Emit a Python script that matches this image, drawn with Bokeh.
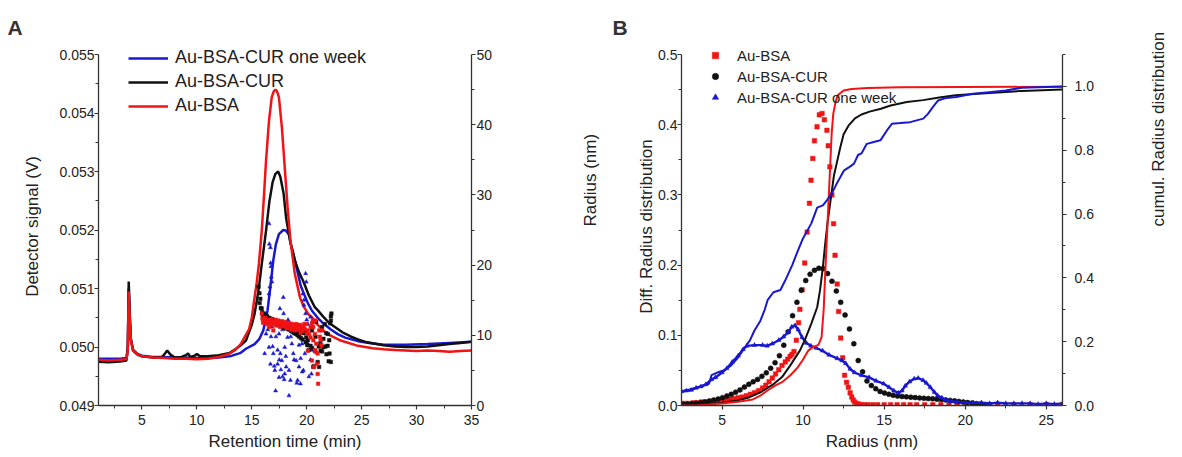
import math
from bokeh.plotting import figure
from bokeh.models import (Range1d, LinearAxis, FixedTicker, Legend, LegendItem,
                          Title, PrintfTickFormatter)
from bokeh.layouts import row
from bokeh.embed import file_html
from bokeh.resources import INLINE

FONT = "Liberation Sans"
BLUE = "#1818d0"
RED = "#f01414"
BLACK = "#111111"
AXC = "#333333"

# ---------------- Panel A data: detector signal (V) vs retention time (min)
a_red_line = [(1.0, .04978), (2.0, .04977), (3.0, .04978), (3.6, .04979), (3.72, .04995), (3.8, .05095),
              (3.9, .05045), (4.0, .05012), (4.2, .04994), (4.6, .04987), (5.0, .04984), (6.0, .04982),
              (7.0, .04981), (8.0, .04980), (9.0, .04980), (10.0, .04979), (11.0, .04980), (12.0, .04983),
              (12.9, .04988), (13.5, .04995), (14.0, .05005), (14.5, .05022), (14.75, .05030), (15.0, .05050),
              (15.26, .05085), (15.45, .05110), (15.65, .05142), (15.91, .05199), (16.1, .05255), (16.3, .05319),
              (16.57, .05387), (16.82, .05427), (17.0, .05437), (17.16, .05440), (17.3, .05437), (17.47, .05427),
              (17.74, .05376), (18.0, .05307), (18.26, .05239), (18.52, .05182), (18.92, .05125), (19.4, .05084),
              (19.7, .05070), (20.2, .05055), (20.48, .05051), (21.0, .05038), (21.52, .05028), (22.0, .05021),
              (23.1, .05011), (24.66, .05002), (26.0, .04998), (27.0, .04996), (28.0, .04995), (29.0, .04994),
              (30.0, .04993), (31.0, .04994), (32.0, .04993), (33.0, .04992), (34.0, .04993), (35.0, .04994)]
a_black_line = [(1.0, .04975), (2.0, .04974), (3.0, .04975), (3.6, .04977), (3.72, .05000), (3.8, .05112),
                (3.9, .05052), (4.0, .05013), (4.2, .04994), (4.6, .04987), (5.0, .04984), (6.0, .04982),
                (6.8, .04982), (7.1, .04989), (7.3, .04994), (7.6, .04987), (8.0, .04982), (8.6, .04983),
                (9.0, .04986), (9.2, .04989), (9.4, .04983), (9.8, .04985), (10.0, .04988), (10.3, .04984),
                (11.0, .04984), (12.0, .04986), (13.0, .04990), (13.5, .04996), (14.0, .05003), (14.47, .05011),
                (15.0, .05038), (15.26, .05057), (15.45, .05078), (15.65, .05102), (15.91, .05142), (16.1, .05170),
                (16.3, .05199), (16.6, .05248), (16.9, .05282), (17.15, .05296), (17.4, .05300), (17.6, .05291),
                (17.9, .05262), (18.13, .05220), (18.5, .05180), (18.92, .05148), (19.3, .05128), (19.7, .05112),
                (20.2, .05088), (20.74, .05068), (21.0, .05063), (21.5, .05052), (22.05, .05041), (22.5, .05035),
                (23.35, .05024), (24.0, .05018), (24.66, .05013), (25.5, .05008), (27.0, .05003), (28.0, .05001),
                (29.0, .05000), (30.0, .05000), (31.0, .05001), (32.0, .05003), (33.0, .05005), (34.0, .05007),
                (35.0, .05009)]
a_blue_line = [(1.0, .04980), (2.0, .04980), (3.0, .04980), (3.6, .04981), (3.72, .05000), (3.8, .05100),
               (3.9, .05048), (4.0, .05012), (4.2, .04995), (4.6, .04988), (5.0, .04985), (6.0, .04983),
               (7.0, .04983), (8.0, .04982), (9.0, .04982), (10.0, .04981), (11.0, .04981), (12.0, .04982),
               (13.0, .04984), (14.0, .04990), (14.47, .04997), (15.26, .05005), (15.7, .05014), (16.04, .05028),
               (16.25, .05045), (16.43, .05062), (16.69, .05102), (16.96, .05148), (17.2, .05176), (17.47, .05193),
               (17.87, .05200), (18.1, .05199), (18.39, .05192), (18.6, .05172), (18.78, .05160), (19.17, .05128),
               (19.45, .05105), (19.7, .05093), (20.1, .05075), (20.48, .05062), (21.0, .05050), (21.52, .05040),
               (22.2, .05030), (22.83, .05022), (23.5, .05016), (24.66, .05010), (26.0, .05006), (27.0, .05004),
               (29.0, .05004), (31.0, .05005), (33.0, .05007), (35.0, .05009)]

# radius (nm) scatter, right axis
a_red_pts = [(15.91, 13.1), (15.97, 12.4), (16.03, 11.8), (16.1, 12.3), (16.16, 11.9), (16.23, 12.5), (16.3, 12.0),
             (16.36, 11.6), (16.43, 12.2), (16.5, 11.8), (16.57, 11.2), (16.63, 12.1), (16.7, 11.7), (16.77, 12.3),
             (16.83, 11.5), (16.9, 11.9), (16.96, 10.7), (17.03, 12.0), (17.1, 11.6), (17.17, 12.2), (17.23, 11.4),
             (17.3, 11.9), (17.37, 11.5), (17.43, 12.1), (17.5, 11.6), (17.57, 11.2), (17.63, 11.9), (17.7, 11.5),
             (17.77, 12.0), (17.83, 11.3), (17.9, 11.7), (17.97, 11.4), (18.03, 11.9), (18.1, 11.2), (18.17, 11.6),
             (18.23, 11.0), (18.3, 11.5), (18.37, 11.8), (18.43, 11.1), (18.5, 11.4), (18.57, 10.8), (18.63, 11.6),
             (18.7, 11.2), (18.77, 11.5), (18.83, 10.9), (18.9, 10.7), (18.97, 11.3), (19.03, 11.6), (19.1, 11.0),
             (19.17, 11.4), (19.23, 10.8), (19.3, 11.2), (19.37, 11.5), (19.44, 10.4), (19.5, 11.0), (19.57, 11.3),
             (19.63, 10.6), (19.7, 11.1), (19.77, 11.6), (19.83, 10.9), (19.96, 11.6), (20.05, 10.2), (20.09, 10.7),
             (20.1, 7.8), (20.22, 10.2), (20.35, 9.7), (20.35, 11.2), (20.48, 11.6), (20.48, 6.4), (20.55, 12.0),
             (20.6, 9.3), (20.6, 11.2), (20.67, 5.5), (20.74, 10.2), (20.74, 7.9), (20.8, 12.1), (20.87, 8.8),
             (20.87, 7.6), (20.93, 5.9), (21.0, 7.4), (21.0, 4.5), (21.04, 3.1), (21.13, 10.7), (21.2, 9.8),
             (21.27, 9.3), (21.35, 8.6), (21.4, 10.7)]
a_black_pts = [(15.62, 16.9), (15.7, 16.0), (15.72, 14.6), (15.78, 15.2), (15.82, 13.9), (15.9, 13.8), (15.95, 13.3),
               (16.0, 13.0), (16.06, 12.7), (16.12, 13.1), (16.18, 12.6), (16.25, 12.9), (16.32, 12.4), (16.4, 12.7),
               (16.47, 12.2), (16.55, 12.5), (16.62, 12.1), (16.7, 12.4), (16.77, 12.0), (16.85, 12.3), (16.92, 11.9),
               (17.0, 12.2), (17.07, 11.8), (17.15, 12.0), (17.22, 11.6), (17.3, 11.9), (17.37, 11.5), (17.45, 11.8),
               (17.52, 11.4), (17.6, 11.7), (17.67, 11.3), (17.75, 11.6), (17.82, 11.2), (17.9, 11.5), (17.97, 11.1),
               (18.05, 11.4), (18.12, 11.0), (18.2, 11.3), (18.27, 10.9), (18.35, 11.2), (18.42, 10.8), (18.5, 11.1),
               (18.57, 10.6), (18.65, 11.0), (18.72, 10.5), (18.8, 10.9), (18.87, 10.3), (18.95, 10.8), (19.02, 10.2),
               (19.1, 10.7), (19.17, 10.0), (19.25, 10.6), (19.32, 9.8), (19.4, 10.5), (19.47, 9.6), (19.55, 10.4),
               (19.62, 9.4), (19.7, 10.3), (19.83, 10.7), (19.9, 9.0), (19.96, 9.7), (20.05, 8.6), (20.1, 9.3),
               (20.2, 7.9), (20.35, 8.5), (20.48, 10.7), (20.5, 8.2), (20.6, 5.5), (20.65, 5.6), (20.74, 7.8),
               (20.8, 9.8), (20.87, 11.9), (21.0, 6.2), (21.1, 8.4), (21.13, 5.5), (21.13, 8.5), (21.24, 8.9),
               (21.27, 7.8), (21.4, 11.2), (21.4, 7.7), (21.52, 8.3), (21.52, 9.5), (21.66, 11.6), (21.7, 8.4),
               (21.78, 10.3), (21.8, 7.3), (21.9, 8.5), (21.92, 10.2), (22.0, 6.3), (22.05, 9.3), (22.08, 7.4),
               (22.14, 11.7), (22.2, 6.2), (22.2, 12.1), (22.25, 13.1), (22.2, 12.7)]
a_blue_pts = [(16.04, 12.1), (16.17, 7.4), (16.3, 10.2), (16.46, 10.8), (16.57, 25.9), (16.6, 23.0), (16.65, 16.9),
              (16.57, 15.9), (16.7, 22.5), (16.72, 20.3), (16.75, 19.8), (16.78, 18.3), (16.83, 17.6), (16.57, 8.3),
              (16.7, 5.9), (16.75, 9.8), (16.83, 11.2), (16.9, 8.4), (16.96, 7.4), (17.05, 5.6), (17.1, 12.1),
              (17.1, 5.0), (17.17, 2.1), (17.2, 9.8), (17.2, 12.0), (17.35, 5.9), (17.35, 7.9), (17.48, 4.0),
              (17.48, 10.2), (17.5, 6.5), (17.56, 13.8), (17.6, 7.4), (17.6, 11.6), (17.65, 5.1), (17.74, 6.4),
              (17.8, 4.1), (17.8, 10.8), (17.87, 15.4), (17.9, 13.1), (17.95, 3.7), (18.0, 4.5), (18.0, 8.3),
              (18.1, 7.0), (18.1, 11.0), (18.13, 5.5), (18.13, 11.2), (18.26, 9.7), (18.3, 12.2), (18.39, 5.0),
              (18.39, 1.4), (18.52, 3.6), (18.55, 9.8), (18.65, 8.8), (18.65, 11.6), (18.78, 7.4), (18.85, 6.5),
              (18.91, 11.2), (19.04, 6.4), (19.1, 3.2), (19.15, 11.5), (19.17, 3.6), (19.17, 10.2), (19.3, 5.5),
              (19.3, 8.6), (19.43, 3.1), (19.45, 6.7), (19.57, 8.8), (19.6, 4.8), (19.65, 15.9), (19.7, 5.0),
              (19.75, 15.0), (19.75, 14.3), (19.83, 7.4), (19.9, 18.8), (19.9, 13.1), (19.96, 17.6), (20.0, 12.2),
              (20.05, 9.3), (20.1, 11.6), (20.1, 8.8), (20.2, 4.1), (20.35, 12.6), (20.35, 6.5), (20.43, 4.5),
              (20.5, 12.0), (20.5, 7.9)]

# ---------------- Panel B data: radius distributions
b_red_diff = [(2.5, .003), (2.75, .003), (3.0, .003), (3.25, .004), (3.5, .004), (3.75, .005), (4.0, .005),
              (4.25, .006), (4.5, .006), (4.75, .007), (5.0, .007), (5.25, .008), (5.5, .009), (5.75, .010),
              (6.0, .011), (6.25, .012), (6.5, .014), (6.75, .016), (7.0, .018), (7.25, .021), (7.5, .025),
              (7.7, .029), (7.9, .034), (8.1, .039), (8.3, .045), (8.5, .051), (8.7, .057), (8.9, .062),
              (9.05, .066), (9.2, .070), (9.32, .073), (9.44, .077), (9.58, .093), (9.72, .118), (9.8, .137),
              (9.94, .165), (10.1, .203), (10.25, .247), (10.39, .288), (10.49, .321), (10.6, .352), (10.7, .377),
              (10.86, .397), (11.0, .414), (11.17, .416), (11.31, .407), (11.47, .392), (11.55, .370), (11.65, .340),
              (11.78, .300), (11.88, .259), (11.97, .214), (12.1, .173), (12.19, .134), (12.32, .096), (12.44, .068),
              (12.56, .043), (12.68, .033), (12.79, .026), (12.9, .018), (13.0, .012), (13.09, .008), (13.18, .005),
              (13.3, .003), (13.45, .002), (13.6, .001), (13.8, .001), (14.0, .001), (14.3, .001), (14.6, .001),
              (15.0, .001), (15.4, .001), (15.8, .001), (16.2, .001), (16.6, .001), (17.0, .001), (17.5, .001),
              (18.0, .001), (18.5, .001), (19.0, .001), (19.5, .001), (20.0, .001), (20.5, .001), (21.0, .001),
              (21.5, .001), (22.0, .001), (23.0, .001), (24.0, .001), (25.0, .001), (26.0, .001)]
b_black_diff = [(2.6, .0017), (2.87, .0020), (3.14, .0025), (3.41, .0031), (3.68, .0040), (3.95, .0051),
                (4.22, .0063), (4.49, .0078), (4.76, .0094), (5.03, .0112), (5.3, .0135), (5.57, .0160),
                (5.84, .0190), (6.11, .0222), (6.38, .0262), (6.65, .0302), (6.92, .0338), (7.19, .0372),
                (7.46, .0415), (7.73, .0465), (8.0, .0530), (8.27, .0610), (8.54, .0710), (8.81, .0860),
                (9.08, .1050), (9.35, .1280), (9.62, .1470), (9.89, .1640), (10.16, .1780), (10.43, .1870),
                (10.7, .1925), (10.97, .1955), (11.24, .1950), (11.51, .1880), (11.78, .1770), (12.05, .1630),
                (12.32, .1470), (12.59, .1290), (12.86, .1090), (13.13, .0880), (13.4, .0640), (13.67, .0480),
                (13.94, .0350), (14.21, .0285), (14.48, .0240), (14.75, .0200), (15.02, .0178), (15.29, .0160),
                (15.56, .0146), (15.83, .0134), (16.1, .0128), (16.37, .0123), (16.64, .0118), (16.91, .0113),
                (17.18, .0108), (17.45, .0103), (17.72, .0099), (17.99, .0095), (18.26, .0090), (18.53, .0085),
                (18.8, .0080), (19.07, .0073), (19.34, .0066), (19.61, .0058), (19.88, .0050), (20.15, .0042),
                (20.42, .0034), (20.69, .0026), (20.96, .0019), (21.23, .0013), (21.5, .0008)]
b_blue_diff = [(2.5, .020), (2.8, .021), (3.1, .022), (3.4, .025), (3.7, .027), (4.0, .030), (4.35, .037),
               (4.6, .040), (5.0, .047), (5.3, .053), (5.63, .062), (6.0, .071), (6.3, .080), (6.53, .085),
               (7.0, .086), (7.5, .086), (7.78, .085), (8.1, .088), (8.5, .093), (8.8, .098), (9.1, .105),
               (9.3, .112), (9.5, .114), (9.7, .108), (9.94, .097), (10.2, .089), (10.48, .085), (10.8, .082),
               (11.2, .078), (11.6, .072), (12.1, .067), (12.4, .064), (12.63, .060), (12.9, .052), (13.17, .047),
               (13.6, .043), (14.07, .040), (14.5, .035), (14.97, .031), (15.3, .026), (15.6, .021), (15.87, .018),
               (16.1, .021), (16.3, .028), (16.57, .034), (16.85, .038), (17.1, .039), (17.4, .036), (17.6, .032),
               (17.85, .026), (18.1, .019), (18.3, .014), (18.56, .011), (18.8, .008), (19.1, .006), (19.5, .005),
               (20.0, .004), (20.5, .004), (21.0, .004), (21.5, .003), (22.0, .004), (22.5, .003), (23.0, .003),
               (23.5, .003), (24.0, .003), (24.5, .002), (25.0, .003), (25.5, .002), (26.0, .003)]
b_red_cum = [(2.5, 0.0), (3.5, 0.001), (4.2, 0.003), (5.1, 0.007), (6.0, 0.012), (6.9, 0.019), (7.4, 0.032),
             (7.8, 0.047), (8.3, 0.063), (8.7, 0.073), (9.2, 0.094), (9.6, 0.115), (9.96, 0.141), (10.32, 0.172),
             (10.6, 0.183), (10.95, 0.190), (11.14, 0.214), (11.27, 0.30), (11.37, 0.42), (11.47, 0.53),
             (11.57, 0.64), (11.67, 0.75), (11.76, 0.85), (11.86, 0.914), (12.0, 0.95), (12.13, 0.972),
             (12.5, 0.987), (13.0, 0.992), (14.0, 0.995), (16.0, 0.997), (20.0, 0.998), (26.0, 0.999)]
b_black_cum = [(2.5, 0.0), (3.5, 0.002), (4.2, 0.005), (5.0, 0.009), (6.0, 0.016), (6.7, 0.026), (7.4, 0.042),
               (8.2, 0.068), (8.7, 0.089), (9.2, 0.125), (9.8, 0.172), (10.1, 0.204), (10.5, 0.256), (10.87, 0.308),
               (11.04, 0.36), (11.22, 0.434), (11.35, 0.50), (11.5, 0.57), (11.7, 0.645), (11.9, 0.72),
               (12.1, 0.765), (12.3, 0.81), (12.5, 0.85), (12.8, 0.877), (13.2, 0.90), (13.6, 0.912),
               (14.1, 0.921), (14.8, 0.93), (15.4, 0.94), (16.4, 0.951), (17.4, 0.957), (18.4, 0.965),
               (19.4, 0.972), (21.5, 0.979), (23.5, 0.986), (26.0, 0.99)]
b_blue_cum = [(2.5, 0.045), (3.0, 0.05), (3.5, 0.057), (4.2, 0.068), (4.35, 0.095), (4.8, 0.105), (5.1, 0.11),
              (5.55, 0.125), (6.0, 0.151), (6.27, 0.172), (6.72, 0.204), (7.0, 0.235), (7.36, 0.265), (7.63, 0.30),
              (7.81, 0.33), (8.17, 0.355), (8.6, 0.362), (8.88, 0.39), (9.33, 0.44), (9.6, 0.475), (9.96, 0.52),
              (10.5, 0.57), (10.87, 0.62), (11.22, 0.627), (11.5, 0.645), (11.77, 0.664), (12.12, 0.70),
              (12.3, 0.716), (12.53, 0.737), (12.85, 0.747), (13.14, 0.758), (13.39, 0.785), (13.6, 0.79),
              (13.93, 0.82), (14.36, 0.826), (14.77, 0.831), (15.17, 0.862), (15.48, 0.883), (15.99, 0.885),
              (16.6, 0.888), (17.41, 0.899), (17.7, 0.914), (18.0, 0.935), (18.33, 0.956), (18.84, 0.964),
              (19.45, 0.967), (20.46, 0.977), (21.48, 0.982), (22.5, 0.987), (23.5, 0.996), (26.0, 1.0)]

# ---------------- ticks / labels
a_xticks = [5, 10, 15, 20, 25, 30, 35]
a_yticks = [0.049, 0.050, 0.051, 0.052, 0.053, 0.054, 0.055]
a_rticks = [0, 10, 20, 30, 40, 50]
b_xticks = [5, 10, 15, 20, 25]
b_yticks = [0.0, 0.1, 0.2, 0.3, 0.4, 0.5]
b_rticks = [0.0, 0.2, 0.4, 0.6, 0.8, 1.0]

# frame geometry: 351 px for the axis span, 7 px headroom above it for the legends
SPAN = 351.0
HEAD = 7.0
TOP = 47
FH = int(SPAN + HEAD)
H = 455


def xs(pairs):
    return [p[0] for p in pairs]


def ys(pairs):
    return [p[1] for p in pairs]


def padded(lo, hi):
    return Range1d(lo, hi + (hi - lo) * HEAD / SPAN)


def style_axis(ax, ticks, minor, fmt, label_std, title_std, title_size="17px"):
    ax.ticker = FixedTicker(ticks=ticks, minor_ticks=minor)
    ax.formatter = PrintfTickFormatter(format=fmt)
    ax.axis_line_color = AXC
    ax.axis_line_width = 1.3
    ax.major_tick_line_color = AXC
    ax.minor_tick_line_color = AXC
    ax.major_tick_line_width = 1.2
    ax.minor_tick_line_width = 1.0
    ax.major_tick_in = 0
    ax.major_tick_out = 4
    ax.minor_tick_in = 0
    ax.minor_tick_out = 3
    ax.major_label_text_font = FONT
    ax.major_label_text_font_size = "14px"
    ax.major_label_text_color = "#222222"
    ax.major_label_standoff = label_std
    ax.axis_label_text_font = FONT
    ax.axis_label_text_font_size = title_size
    ax.axis_label_text_font_style = "normal"
    ax.axis_label_text_color = "#222222"
    ax.axis_label_standoff = title_std


def base_fig(width, xr, yr, left, right):
    p = figure(width=width, height=H, x_range=xr, y_range=yr, output_backend="svg",
               toolbar_location=None, min_border_left=left, min_border_right=right,
               min_border_top=TOP, min_border_bottom=H - TOP - FH)
    p.outline_line_color = None
    p.xgrid.visible = False
    p.ygrid.visible = False
    p.background_fill_color = "white"
    p.border_fill_color = "white"
    return p


# ================= Panel A
pA = base_fig(612, Range1d(1.05, 35), padded(0.049, 0.055), 98, 136)
pA.extra_y_ranges = {"r": padded(0, 50)}
style_axis(pA.xaxis[0], a_xticks, [2.5, 7.5, 12.5, 17.5, 22.5, 27.5, 32.5], "%d", 5, 4)
pA.xaxis[0].axis_label = "Retention time (min)"
style_axis(pA.yaxis[0], a_yticks, [0.0495, 0.0505, 0.0515, 0.0525, 0.0535, 0.0545], "%.3f", 0, 14)
pA.yaxis[0].axis_label = "Detector signal (V)"
pA.yaxis[0].bounds = (0.049, 0.055)
rA = LinearAxis(y_range_name="r", axis_label="Radius (nm)")
style_axis(rA, a_rticks, [5, 15, 25, 35, 45], "%d", 1, 95)
rA.axis_label_orientation = math.pi / 2
rA.bounds = (0, 50)
pA.add_layout(rA, "right")

lb = pA.line(xs(a_blue_line), ys(a_blue_line), line_color=BLUE, line_width=2.5)
lk = pA.line(xs(a_black_line), ys(a_black_line), line_color=BLACK, line_width=2.5)
lr = pA.line(xs(a_red_line), ys(a_red_line), line_color=RED, line_width=2.5)
pA.scatter(xs(a_blue_pts), ys(a_blue_pts), y_range_name="r", marker="triangle", size=4,
           color=BLUE, line_width=0.5)
pA.scatter(xs(a_black_pts), ys(a_black_pts), y_range_name="r", marker="square", size=3.5,
           color=BLACK, line_width=0.5)
pA.scatter(xs(a_red_pts), ys(a_red_pts), y_range_name="r", marker="square", size=3.5,
           color=RED, line_width=0.5)

legA = Legend(items=[LegendItem(label="Au-BSA-CUR one week", renderers=[lb]),
                     LegendItem(label="Au-BSA-CUR", renderers=[lk]),
                     LegendItem(label="Au-BSA", renderers=[lr])],
              location=(30, 289), glyph_width=40, glyph_height=20, label_height=20, spacing=3,
              padding=0, margin=0, border_line_color=None, background_fill_alpha=0,
              label_standoff=7, label_text_font=FONT, label_text_font_size="18px",
              label_text_color="#222222")
pA.add_layout(legA)
pA.add_layout(Title(text="A", align="left", offset=-91, standoff=18, text_font=FONT,
                    text_font_size="21px", text_font_style="bold", text_color="#333333"), "above")

# ================= Panel B
pB = base_fig(568, Range1d(2.5, 26), padded(0, 0.5), 69, 114)
pB.extra_y_ranges = {"c": padded(0, 1.1)}
style_axis(pB.xaxis[0], b_xticks, [7.5, 12.5, 17.5, 22.5], "%d", 5, 4)
pB.xaxis[0].axis_label = "Radius (nm)"
style_axis(pB.yaxis[0], b_yticks, [0.05, 0.15, 0.25, 0.35, 0.45], "%.1f", 0, -1)
pB.yaxis[0].axis_label = "Diff. Radius distribution"
pB.yaxis[0].bounds = (0, 0.5)
rB = LinearAxis(y_range_name="c", axis_label="cumul. Radius distribution")
style_axis(rB, b_rticks, [0.1, 0.3, 0.5, 0.7, 0.9, 1.1], "%.1f", 8, 62)
rB.axis_label_orientation = math.pi / 2
rB.bounds = (0, 1.1)
pB.add_layout(rB, "right")

sr = pB.scatter(xs(b_red_diff), ys(b_red_diff), marker="square", size=4.5, color=RED, line_width=0.5)
sk = pB.scatter(xs(b_black_diff), ys(b_black_diff), marker="circle", size=5, color=BLACK, line_width=0.5)
pB.line(xs(b_blue_diff), ys(b_blue_diff), line_color=BLUE, line_width=2.4)
sb = pB.scatter(xs(b_blue_diff), ys(b_blue_diff), marker="triangle", size=4.5, color=BLUE, line_width=0.5)
pB.line(xs(b_black_cum), ys(b_black_cum), y_range_name="c", line_color=BLACK, line_width=2.0)
pB.line(xs(b_red_cum), ys(b_red_cum), y_range_name="c", line_color=RED, line_width=2.0)
pB.line(xs(b_blue_cum), ys(b_blue_cum), y_range_name="c", line_color=BLUE, line_width=2.0)

legB = Legend(items=[LegendItem(label="Au-BSA", renderers=[sr]),
                     LegendItem(label="Au-BSA-CUR", renderers=[sk]),
                     LegendItem(label="Au-BSA-CUR one week", renderers=[sb])],
              location=(26, 298), glyph_width=16, glyph_height=20, label_height=20, spacing=1,
              padding=0, margin=0, border_line_color=None, background_fill_alpha=0,
              label_standoff=14, label_text_font=FONT, label_text_font_size="15px",
              label_text_color="#222222")
pB.add_layout(legB)
pB.add_layout(Title(text="B", align="left", offset=-69, standoff=18, text_font=FONT,
                    text_font_size="21px", text_font_style="bold", text_color="#333333"), "above")

layout = row(pA, pB)
open("out.html", "w").write(file_html(layout, INLINE))
